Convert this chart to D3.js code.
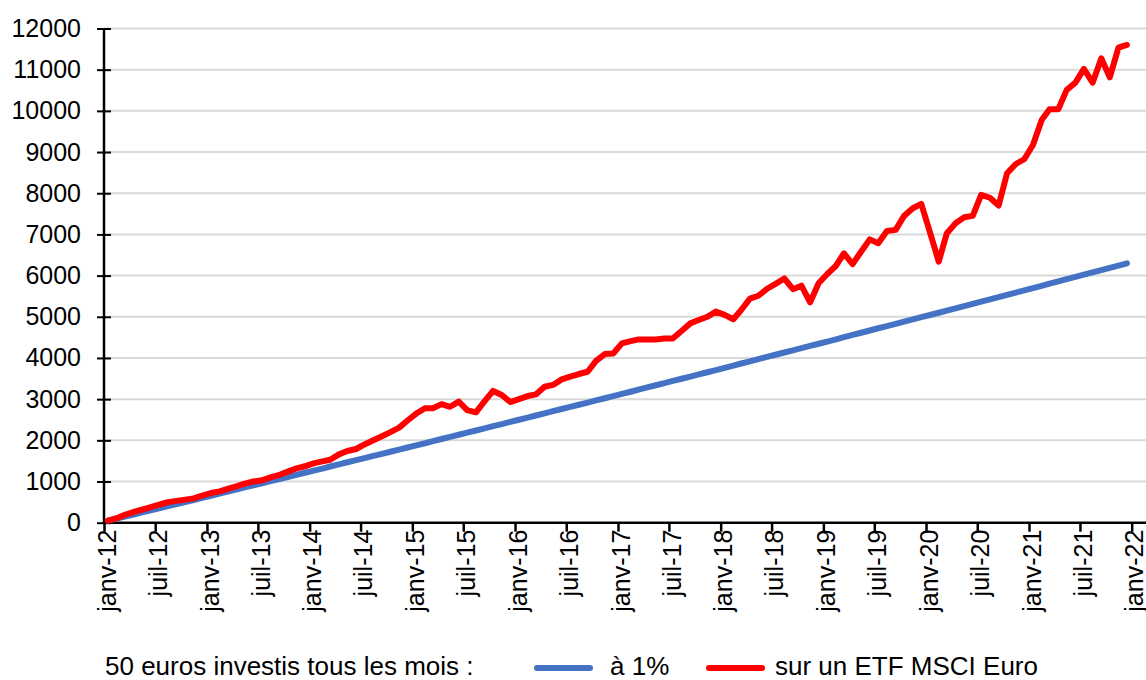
<!DOCTYPE html>
<html>
<head>
<meta charset="utf-8">
<script src="https://cdn.jsdelivr.net/npm/d3@7"></script>
<style>
  body { margin: 0; background: #fff; }
  svg text { font-family: Arial, "Liberation Sans", sans-serif; fill: #000; }
</style>
</head>
<body>
<svg id="chart" width="1146" height="680"></svg>
<script>
// monthly values, janv-12 .. déc-21
var startMonth = new Date(2012, 0, 1);
var endAxis = new Date(2022, 0, 1);

// 50 €/month at 1%
var savings = [
  50, 100, 150, 200, 250, 301, 351, 401, 452, 502, 552, 603,
  653, 704, 754, 805, 856, 906, 957, 1008, 1059, 1110, 1161, 1212,
  1263, 1314, 1365, 1416, 1467, 1518, 1569, 1621, 1672, 1723, 1775, 1826,
  1878, 1929, 1981, 2033, 2084, 2136, 2188, 2239, 2291, 2343, 2395, 2447,
  2499, 2551, 2603, 2655, 2707, 2760, 2812, 2864, 2917, 2969, 3021, 3074,
  3126, 3179, 3231, 3284, 3337, 3389, 3442, 3495, 3548, 3601, 3654, 3707,
  3760, 3813, 3866, 3919, 3972, 4025, 4078, 4132, 4185, 4238, 4292, 4345,
  4399, 4452, 4506, 4560, 4613, 4667, 4721, 4774, 4828, 4882, 4936, 4990,
  5044, 5098, 5152, 5206, 5260, 5315, 5369, 5423, 5478, 5532, 5586, 5641,
  5695, 5750, 5804, 5859, 5914, 5968, 6023, 6078, 6133, 6188, 6242, 6298
];

// 50 €/month on an ETF MSCI Euro
var etf = [
  50, 110, 190, 260, 320, 380, 440, 500, 530, 560, 590, 660,
  720, 760, 820, 880, 950, 1000, 1030, 1100, 1160, 1240, 1320, 1370,
  1440, 1490, 1530, 1660, 1740, 1790, 1900, 2000, 2100, 2200, 2310, 2480,
  2650, 2780, 2780, 2880, 2815, 2940, 2735, 2680, 2950, 3200, 3100, 2930,
  3000, 3075, 3115, 3300, 3345, 3480, 3545, 3610, 3665, 3930, 4095, 4110,
  4355, 4410, 4450, 4450, 4450, 4475, 4475, 4655, 4840, 4920, 5000, 5125,
  5045, 4940, 5165, 5440, 5510, 5680, 5800, 5930, 5670, 5755, 5350, 5815,
  6040, 6240, 6540, 6280, 6580, 6880, 6785, 7085, 7110, 7450, 7635, 7740,
  7050, 6340, 7030, 7270, 7415, 7450, 7960, 7890, 7700, 8485, 8710, 8825,
  9170, 9780, 10040, 10040, 10510, 10685, 11020, 10685, 11275, 10815, 11535, 11600
];

var yTicks = [0, 1000, 2000, 3000, 4000, 5000, 6000, 7000, 8000, 9000, 10000, 11000, 12000];
var monthNames = ['janv', 'févr', 'mars', 'avr', 'mai', 'juin', 'juil', 'août', 'sept', 'oct', 'nov', 'déc'];

var legendTitle = '50 euros investis tous les mois :';
var seriesNames = ['à 1%', 'sur un ETF MSCI Euro'];
var seriesColors = ['#4472c4', '#ff0000'];

var svg = d3.select('#chart');
var plotLeft = 104, plotRight = 1146, axisEnd = 1131.7, plotTop = 28.5, plotBottom = 522.7;

var x = d3.scaleTime().domain([startMonth, endAxis]).range([plotLeft, axisEnd]);
var y = d3.scaleLinear().domain([0, 12000]).range([plotBottom, plotTop]);

function pointDate(i) {
  return d3.timeDay.offset(d3.timeMonth.offset(startMonth, i), 14);
}

// gridlines
svg.append('g').selectAll('line').data(yTicks.slice(1)).enter().append('line')
  .attr('x1', plotLeft).attr('x2', plotRight)
  .attr('y1', function(d) { return y(d); }).attr('y2', function(d) { return y(d); })
  .attr('stroke', '#d9d9d9').attr('stroke-width', 2);

// y axis
var yAxis = svg.append('g')
  .attr('transform', 'translate(' + plotLeft + ',0)')
  .call(d3.axisLeft(y).tickValues(yTicks).tickSize(7).tickFormat(d3.format('d')));
yAxis.select('.domain').remove();
yAxis.selectAll('.tick line').attr('x2', 7).attr('x1', -7).attr('stroke', '#000').attr('stroke-width', 2);
yAxis.selectAll('.tick text').attr('font-size', 25).attr('x', -23);
yAxis.append('line').attr('x1', 0).attr('x2', 0).attr('y1', plotTop).attr('y2', plotBottom)
  .attr('stroke', '#000').attr('stroke-width', 2.5);

// x axis
var xAxis = svg.append('g')
  .attr('transform', 'translate(0,' + plotBottom + ')')
  .call(d3.axisBottom(x).ticks(d3.timeMonth.every(6)).tickSize(9)
    .tickFormat(function(d) { return monthNames[d.getMonth()] + '-' + d3.timeFormat('%y')(d); }));
xAxis.select('.domain').remove();
xAxis.selectAll('.tick line').attr('stroke', '#000').attr('stroke-width', 2.5);
xAxis.selectAll('.tick text')
  .attr('font-size', 25)
  .attr('text-anchor', 'end')
  .attr('transform', 'rotate(-90)')
  .attr('x', -7).attr('y', 0).attr('dy', '0.45em');
xAxis.append('line').attr('x1', plotLeft - 1).attr('x2', plotRight).attr('y1', 0).attr('y2', 0)
  .attr('stroke', '#000').attr('stroke-width', 2.5);

// lines
var line = d3.line()
  .x(function(d, i) { return x(pointDate(i)); })
  .y(function(d) { return y(d); });

[savings, etf].forEach(function(series, k) {
  svg.append('path').datum(series)
    .attr('d', line)
    .attr('fill', 'none')
    .attr('stroke', seriesColors[k])
    .attr('stroke-width', 6)
    .attr('stroke-linejoin', 'round')
    .attr('stroke-linecap', 'round');
});

// legend
var legY = 666;
svg.append('text').attr('x', 105).attr('y', legY).attr('dy', '0.35em')
  .attr('font-size', 26).text(legendTitle);
var legPos = [[537, 610], [709, 775]];
seriesNames.forEach(function(name, k) {
  svg.append('line')
    .attr('x1', legPos[k][0]).attr('x2', legPos[k][0] + 53)
    .attr('y1', legY + 2).attr('y2', legY + 2)
    .attr('stroke', seriesColors[k]).attr('stroke-width', 6).attr('stroke-linecap', 'round');
  svg.append('text').attr('x', legPos[k][1]).attr('y', legY).attr('dy', '0.35em')
    .attr('font-size', 26).text(name);
});
</script>
</body>
</html>
